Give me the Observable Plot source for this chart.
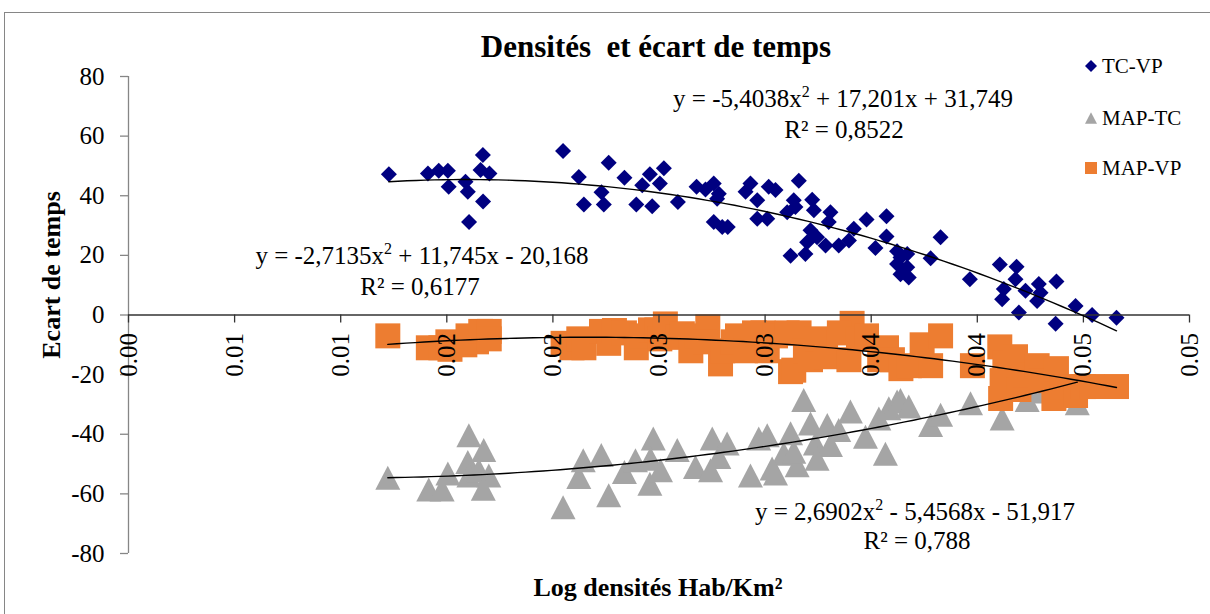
<!DOCTYPE html>
<html><head><meta charset="utf-8">
<script src="https://cdn.jsdelivr.net/npm/d3@7"></script>
<script src="https://cdn.jsdelivr.net/npm/@observablehq/plot@0.6"></script>
<style>
body{margin:0;background:#fff;}
#wrap{position:relative;width:1210px;height:614px;overflow:hidden;font-family:"Liberation Serif","Times New Roman",serif;}
#border{position:absolute;left:4px;top:12px;width:1230px;height:640px;border:1.5px solid #868686;box-sizing:border-box;}
#chart{position:absolute;left:0;top:0;}
#chart svg, #chart svg text{font-family:"Liberation Serif","Times New Roman",serif !important;}
</style></head><body>
<div id="wrap"><div id="border"></div><div id="chart"></div></div>
<script>
// ---- data (x = log density, y = time gap) ----
const tcvpX = [0.01227,0.01411,0.01462,0.01505,0.01509,0.01588,0.01599,0.01605,0.0167,0.01659,0.01701,0.01671,0.02048,0.02122,0.02146,0.02229,0.0224,0.02263,0.02337,0.02393,0.02421,0.02457,0.02468,0.02504,0.02523,0.02589,0.02677,0.02719,0.02758,0.02782,0.02774,0.02758,0.02798,0.02824,0.02908,0.02931,0.02963,0.02963,0.0301,0.03017,0.03049,0.03104,0.0312,0.03159,0.03135,0.03143,0.03222,0.0323,0.03308,0.033,0.03214,0.03198,0.0319,0.03245,0.03285,0.03347,0.03395,0.03418,0.03478,0.03572,0.03572,0.0352,0.03622,0.03638,0.0367,0.03622,0.03638,0.03677,0.0367,0.0378,0.03827,0.03965,0.04106,0.04185,0.0418,0.04125,0.04117,0.04196,0.04227,0.0429,0.04298,0.04282,0.04373,0.04369,0.04463,0.04541,0.04656];
const tcvpY = [47.2,47.5,48.4,48.4,43,44.7,41.3,31.2,53.7,48.6,47.5,38.1,55,46.3,37.1,41.2,37.1,51.1,46,37.1,43.5,47.2,36.5,44.1,49.2,37.9,43,42.1,44.1,40.7,39,31.2,29.5,29.5,41.3,44.1,38.5,32.3,32.3,43,41.9,34.5,19.9,45,38.5,36.2,38.7,35.1,34.5,31.2,28.4,24.4,20.5,26.1,23.3,23.3,25,28.9,32,33.1,26.3,22.5,21.4,19.3,20.5,17.1,13.7,12.6,16,19,26.1,12,16.9,16.2,12,8.7,5.3,0.8,8.1,10.4,7.5,4.7,11.2,-2.9,3,0,-0.9];

const maptcX = [0.01222,0.01415,0.01478,0.01505,0.01604,0.01599,0.01604,0.01674,0.01651,0.01698,0.01672,0.02048,0.02122,0.02143,0.02228,0.02263,0.02337,0.02389,0.02473,0.0246,0.02457,0.02507,0.02586,0.02672,0.02743,0.02751,0.02782,0.02821,0.02931,0.0297,0.0301,0.03049,0.03088,0.03182,0.03214,0.03293,0.03402,0.03347,0.0312,0.03308,0.03237,0.03033,0.03151,0.03135,0.03245,0.03473,0.03536,0.03567,0.03583,0.03622,0.03638,0.03677,0.0378,0.03827,0.03968,0.04117,0.04235,0.04282,0.04361,0.04471];
const maptcY = [-54.6,-58.5,-58.5,-53.2,-40.3,-49.3,-53.8,-45.3,-52.1,-53.8,-58.3,-64.5,-54.3,-48.7,-47,-60.5,-52.7,-48.7,-41.4,-48.2,-56.6,-52.1,-45.3,-51,-52.1,-41.4,-47.6,-43.1,-53.8,-41.4,-40.3,-53.2,-46.5,-28.5,-36.4,-36.9,-32.4,-38.6,-39.7,-43.6,-43.1,-51.5,-50.4,-45.9,-48.2,-40.8,-34.7,-46.5,-31.3,-29,-28.5,-30.7,-36.9,-33.5,-29.6,-34.7,-28.5,-25.7,-25.1,-29.6];

const mapvpX = [0.01222,0.01413,0.01472,0.01505,0.01515,0.01585,0.016,0.0164,0.0166,0.017,0.017,0.02048,0.0209,0.02122,0.02146,0.02229,0.02263,0.0229,0.02337,0.02393,0.02421,0.0246,0.0249,0.02504,0.0253,0.02589,0.0261,0.0265,0.02677,0.0273,0.02719,0.0279,0.028,0.0285,0.0287,0.02908,0.0295,0.0299,0.0301,0.03049,0.0312,0.03104,0.03135,0.0316,0.0319,0.03214,0.03245,0.03285,0.0341,0.0335,0.03395,0.0344,0.03478,0.0354,0.03572,0.036,0.0364,0.0368,0.0374,0.03827,0.0378,0.03977,0.04106,0.0413,0.04117,0.0411,0.0418,0.04196,0.04227,0.04282,0.04298,0.04361,0.04373,0.044,0.04463,0.045,0.04541,0.04656];
const mapvpY = [-7,-11,-11,-9,-11.5,-10,-7,-9,-5.5,-5.5,-8,-9.5,-11,-8,-11,-5.5,-9.5,-5.2,-6,-11,-7,-5,-5,-8,-3,-7.5,-6.3,-12,-7,-4,-9,-16.4,-12,-9,-7,-12,-6,-6,-12,-7,-19,-6,-18.5,-6,-12,-15,-8,-14,-2.8,-6,-15,-8,-7,-15,-11,-15,-18,-17,-10,-7,-17,-17,-10.7,-16,-22,-28,-14,-25,-20,-17,-22,-28,-18,-24,-27,-24,-24,-24];

const seriesNames = ["TC-VP", "MAP-TC", "MAP-VP"];
const seriesColors = ["#000080", "#A5A5A5", "#ED7D31"];
// polynomial trendlines as displayed (x expressed in the trendline's own units = 100 × axis value)
const trendA = [-5.4038, 2.6902, -2.7135];
const trendB = [17.201, -5.4568, 11.745];
const trendC = [31.749, -51.917, -20.168];
const trendXFactor = 100;
const trendText = ["y = -5,4038x|2| + 17,201x + 31,749", "y = 2,6902x|2| - 5,4568x - 51,917", "y = -2,7135x|2| + 11,745x - 20,168"];
const r2Text = ["R² = 0,8522", "R² = 0,788", "R² = 0,6177"];

const xTicks = [0, 0.005, 0.01, 0.015, 0.02, 0.025, 0.03, 0.035, 0.04, 0.045, 0.05];
const xTickLabels = ["0.00","0.01","0.01","0.02","0.02","0.03","0.03","0.04","0.04","0.05","0.05"];
const yTicks = [-80, -60, -40, -20, 0, 20, 40, 60, 80];

const titleText = "Densités  et écart de temps";
const xTitle = "Log densités Hab/Km²";
const yTitle = "Ecart de temps";

// ---- build ----
const FONT = "'Liberation Serif','Times New Roman',serif";
const toRows = (X, Y) => X.map((x, i) => ({x, y: Y[i]}));
const tcvp = toRows(tcvpX, tcvpY);
const maptc = toRows(maptcX, maptcY);
const mapvp = toRows(mapvpX, mapvpY);
const allSeries = [tcvp, maptc, mapvp];

const trendRows = [];
allSeries.forEach((rows, k) => {
  const [x0, x1] = d3.extent(rows, d => d.x);
  const n = 80;
  for (let i = 0; i <= n; i++) {
    const x = x0 + (x1 - x0) * i / n;
    const X = x * trendXFactor;
    trendRows.push({s: k, x, y: trendA[k] * X * X + trendB[k] * X + trendC[k]});
  }
});

const diamondSym = {draw(ctx, size){const r = Math.sqrt(size/Math.PI); ctx.moveTo(0,-r); ctx.lineTo(r,0); ctx.lineTo(0,r); ctx.lineTo(-r,0); ctx.closePath();}};
const triSym = {draw(ctx, size){const r = Math.sqrt(size/Math.PI); const h = r*0.96; ctx.moveTo(0,-h); ctx.lineTo(r,h); ctx.lineTo(-r,h); ctx.closePath();}};
const squareSym = {draw(ctx, size){const r = Math.sqrt(size/Math.PI); ctx.moveTo(-r,-r); ctx.lineTo(r,-r); ctx.lineTo(r,r); ctx.lineTo(-r,r); ctx.closePath();}};

const axisGray = "#868686";
const chart = Plot.plot({
  width: 1210, height: 614,
  marginLeft: 128, marginRight: 21, marginTop: 76, marginBottom: 61,
  style: {fontFamily: FONT, background: "transparent", overflow: "visible"},
  x: {domain: [0, 0.05], axis: null},
  y: {domain: [-80, 80], axis: null},
  marks: [
    Plot.dot(tcvp, {x: "x", y: "y", r: 8, symbol: diamondSym, fill: seriesColors[0]}),
    Plot.dot(maptc, {x: "x", y: "y", r: 12.5, symbol: triSym, fill: seriesColors[1]}),
    Plot.dot(mapvp, {x: "x", y: "y", r: 12.5, symbol: squareSym, fill: seriesColors[2]}),
    Plot.ruleX([0], {y1: -80, y2: 80, stroke: axisGray, strokeWidth: 1.3}),
    Plot.ruleY(yTicks, {x1: 0, x2: 0, insetLeft: -8, stroke: axisGray, strokeWidth: 1.3}),
    Plot.ruleY([0], {x1: 0, x2: 0.05, stroke: "#333", strokeWidth: 1.3}),
    Plot.ruleX(xTicks, {y1: 0, y2: 0, insetBottom: -8, stroke: "#333", strokeWidth: 1.3}),
    Plot.text(yTicks, {x: () => 0, y: d => d, text: d => String(d), textAnchor: "end", dx: -24, fontSize: 25, fontFamily: FONT, fill: "#000"}),
    Plot.text(xTicks, {x: d => d, y: () => 0, text: (d, i) => xTickLabels[i], rotate: -90, textAnchor: "end", lineAnchor: "middle", dy: 18, fontSize: 25, fontFamily: FONT, fill: "#000"}),
    Plot.line(trendRows, {x: "x", y: "y", z: "s", stroke: "#000", strokeWidth: 1.4})
  ]
});
document.getElementById("chart").appendChild(chart);
d3.select(chart).selectAll("text").style("font-family", FONT);

// ---- annotations: title, axis titles, trend equations, legend ----
const svg = d3.select(chart);
const g = svg.append("g").attr("font-family", FONT).attr("fill", "#000").attr("text-anchor", "start");
g.append("text").attr("x", 656).attr("y", 57).attr("text-anchor", "middle").attr("font-weight", "bold").attr("font-size", 31).style("white-space", "pre").text(titleText);
g.append("text").attr("x", 658).attr("y", 596).attr("text-anchor", "middle").attr("font-weight", "bold").attr("font-size", 26).text(xTitle);
g.append("text").attr("transform", "translate(60,275) rotate(-90)").attr("text-anchor", "middle").attr("font-weight", "bold").attr("font-size", 26).text(yTitle);

const eqPos = [[843, 107, 844, 138], [915, 520, 917, 549], [422, 264, 420, 295]];
trendText.forEach((s, k) => {
  const [a, sup, b] = s.split("|");
  const t = g.append("text").attr("x", eqPos[k][0]).attr("y", eqPos[k][1]).attr("text-anchor", "middle").attr("font-size", 25);
  t.append("tspan").text(a);
  t.append("tspan").attr("dy", -10).attr("font-size", 16).text(sup);
  t.append("tspan").attr("dy", 10).text(b);
  g.append("text").attr("x", eqPos[k][2]).attr("y", eqPos[k][3]).attr("text-anchor", "middle").attr("font-size", 25).text(r2Text[k]);
});

const legY = [66, 118, 168];
const legSym = [diamondSym, triSym, squareSym];
const legR = [6, 6, 6];
seriesNames.forEach((name, k) => {
  g.append("path").attr("transform", `translate(1091,${legY[k]})`).attr("fill", seriesColors[k])
    .attr("d", d3.symbol(legSym[k], legR[k] * legR[k] * Math.PI)());
  g.append("text").attr("x", 1102).attr("y", legY[k] + 7).attr("text-anchor", "start").attr("font-size", 21).text(name);
});
</script>
</body></html>
